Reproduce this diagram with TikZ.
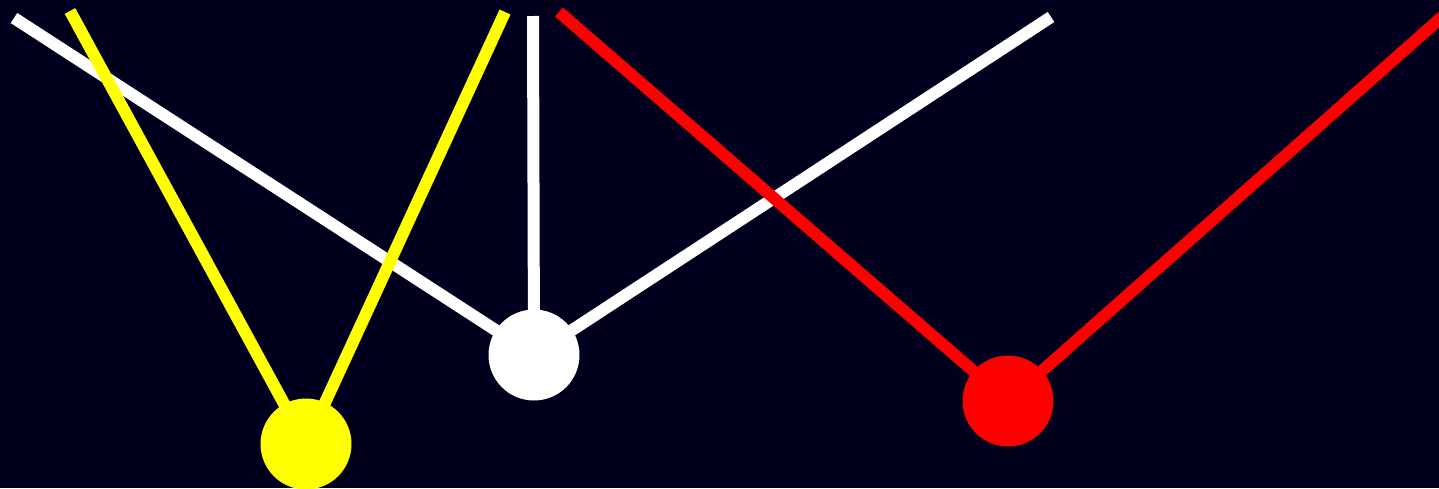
\documentclass[tikz,border=0pt]{standalone}
\usepackage{xcolor}
\usepackage{tikz}
\usetikzlibrary{positioning}
\definecolor{pdBack}{RGB}{0,0,30}
\definecolor{pdYellow}{RGB}{255,255,0}
\definecolor{pdRed}{RGB}{255,0,0}
\definecolor{pdWhite}{RGB}{255,255,255}
\pgfdeclarelayer{bglayer}
\pgfdeclarelayer{rodlayer}
\pgfsetlayers{bglayer,rodlayer,main}

\begin{document}
\begin{tikzpicture}[x=0.5pt, y=-0.5pt,
  bob/.style={circle, minimum size=45.5pt, inner sep=0pt, fill=#1},
  rod/.style={draw=#1, line width=6pt}]
\useasboundingbox (0,0) rectangle (1439,488);
\clip (0,0) rectangle (1439,488);
% background
\begin{pgfonlayer}{bglayer}
  \fill[pdBack] (0,0) rectangle (1439,488);
\end{pgfonlayer}

% bobs
\node[bob=pdYellow] (ybob) at (306,444) {};
\node[bob=pdWhite] (wbob) at (534,355) {};
\node[bob=pdRed] (rbob) at (1008,401) {};

% free ends of the rods
\coordinate (wa) at (14,18);
\coordinate (wb) at (533,16);
\coordinate (wc) at (1051,17);
\coordinate (ya) at (70,11);
\coordinate (yb) at (505,12);
\coordinate (ra) at (559,12);
\coordinate (rb) at (1452,8);

% rods: end / bob / colour
\begin{pgfonlayer}{rodlayer}
\foreach \e/\b/\c in {wa/wbob/pdWhite, wb/wbob/pdWhite, wc/wbob/pdWhite,
                      ya/ybob/pdYellow, yb/ybob/pdYellow,
                      ra/rbob/pdRed, rb/rbob/pdRed}
  \draw[rod=\c] (\e) -- (\b.center);
\end{pgfonlayer}
\end{tikzpicture}
\end{document}
